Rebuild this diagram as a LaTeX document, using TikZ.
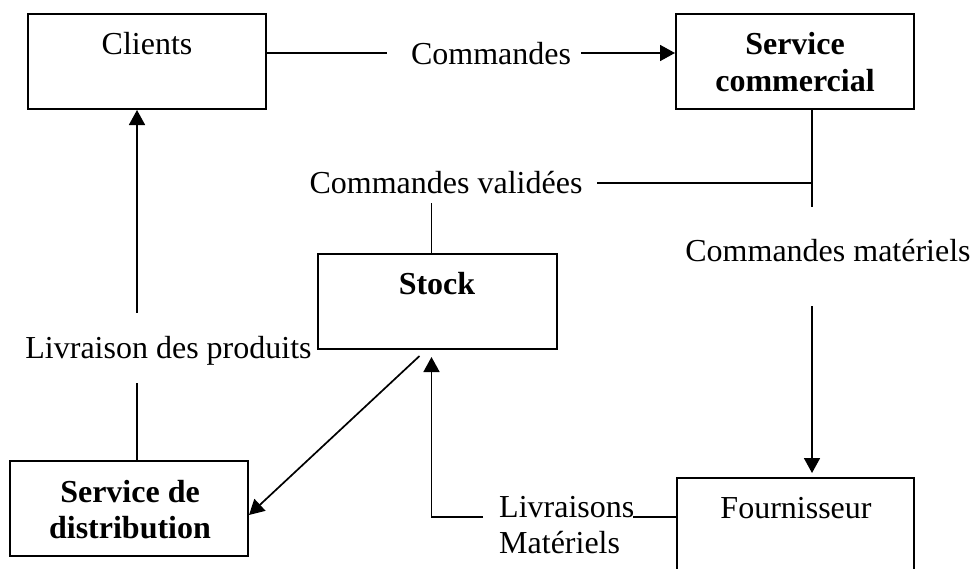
\documentclass[tikz,border=0pt]{standalone}
\usepackage{fontspec}
\setmainfont{Liberation Serif}
\usetikzlibrary{arrows.meta,calc}
\begin{document}
\begin{tikzpicture}[x=1pt,y=-1pt,
  box/.style={draw, line width=2pt, minimum width=238pt, minimum height=95pt, inner sep=0pt},
  txt/.style={inner sep=0pt, font=\fontsize{32}{37}\selectfont, text height=24pt, text depth=2pt},
  btxt/.style={txt, font=\fontsize{32}{37}\selectfont\bfseries},
  conn/.style={line width=1.7pt},
  arr/.style={conn, -{Triangle[length=15pt,width=16pt]}}]
\useasboundingbox (0,0) rectangle (973,568);
\clip (0,0) rectangle (973,568);

% the five actors
\node[box] (clients) at (147,61.5) {};
\node[box] (comm) at (795,61.5) {};
\node[box, minimum width=239pt] (stock) at (437.5,301.5) {};
\node[box] (distr) at (129,508.5) {};
\node[box, minimum width=237pt] (fourn) at (795.5,525.5) {};

% their names
\node[txt, anchor=base] (clientsT) at (147,54) {Clients};
\node[btxt, anchor=base] (commT1) at (795,54) {Service};
\node[btxt, anchor=base] (commT2) at (795,91) {commercial};
\node[btxt, anchor=base] (stockT) at (437,294) {Stock};
\node[btxt, anchor=base] (distrT1) at (130,502) {Service de};
\node[btxt, anchor=base] (distrT2) at (130,538) {distribution};
\node[txt, anchor=base] (fournT) at (796,518) {Fournisseur};

% flow labels
\node[txt, anchor=base] (cmd) at (491,64) {Commandes};
\node[txt, anchor=base] (valid) at (446,193) {Commandes validées};
\node[txt, anchor=base] (matl) at (828,261) {Commandes matériels};
\node[txt, anchor=base] (livp) at (168.5,358) {Livraison des produits};
\node[txt, anchor=base west] (livm1) at (499,517) {Livraisons};
\node[txt, anchor=base west] (livm2) at (499,553) {Matériels};

% junction points of the vertical runs
\coordinate (ctrunk) at (812,183);
\coordinate (lx) at (137,358);

% Clients -> Service commercial
\draw[conn] (clients.east |- cmd) -- ($(cmd.west)+(-24,0)$);
\draw[arr] ($(cmd.east)+(10,0)$) -- (comm.west |- cmd);

% Service commercial -> validated orders / material orders
\draw[conn] (comm.south -| ctrunk) -- (ctrunk) -- ($(ctrunk)+(0,24)$);
\draw[conn] (ctrunk) -- ($(valid.east |- ctrunk)+(14,0)$);
\draw[arr, shorten >=4pt] ($(ctrunk |- matl.south)+(0,43)$) -- (ctrunk |- fourn.north);

% validated orders -> Stock
\draw[conn] ($(stock.north)+(-6,0)$) -- ($(stock.north |- valid.south)+(-6,8)$);

% product delivery: Service de distribution -> Clients
\draw[arr] ($(lx |- livp.north)+(0,-21)$) -- (lx |- clients.south);
\draw[conn] ($(lx |- livp.south)+(0,23)$) -- (lx |- distr.north);

% Stock -> Service de distribution
\draw[arr] ($(stock.south)+(-18,6)$) -- ($(distr.east)+(0,6.5)$);

% Fournisseur -> Stock
\draw[conn] (fourn.west |- livm1.base) -- ($(livm1.base east)+(-2,0)$);
\draw[arr, shorten >=7pt] ($(livm1.base west)+(-16,0)$) -| ($(stock.south)+(-6,0)$);
\end{tikzpicture}
\end{document}
